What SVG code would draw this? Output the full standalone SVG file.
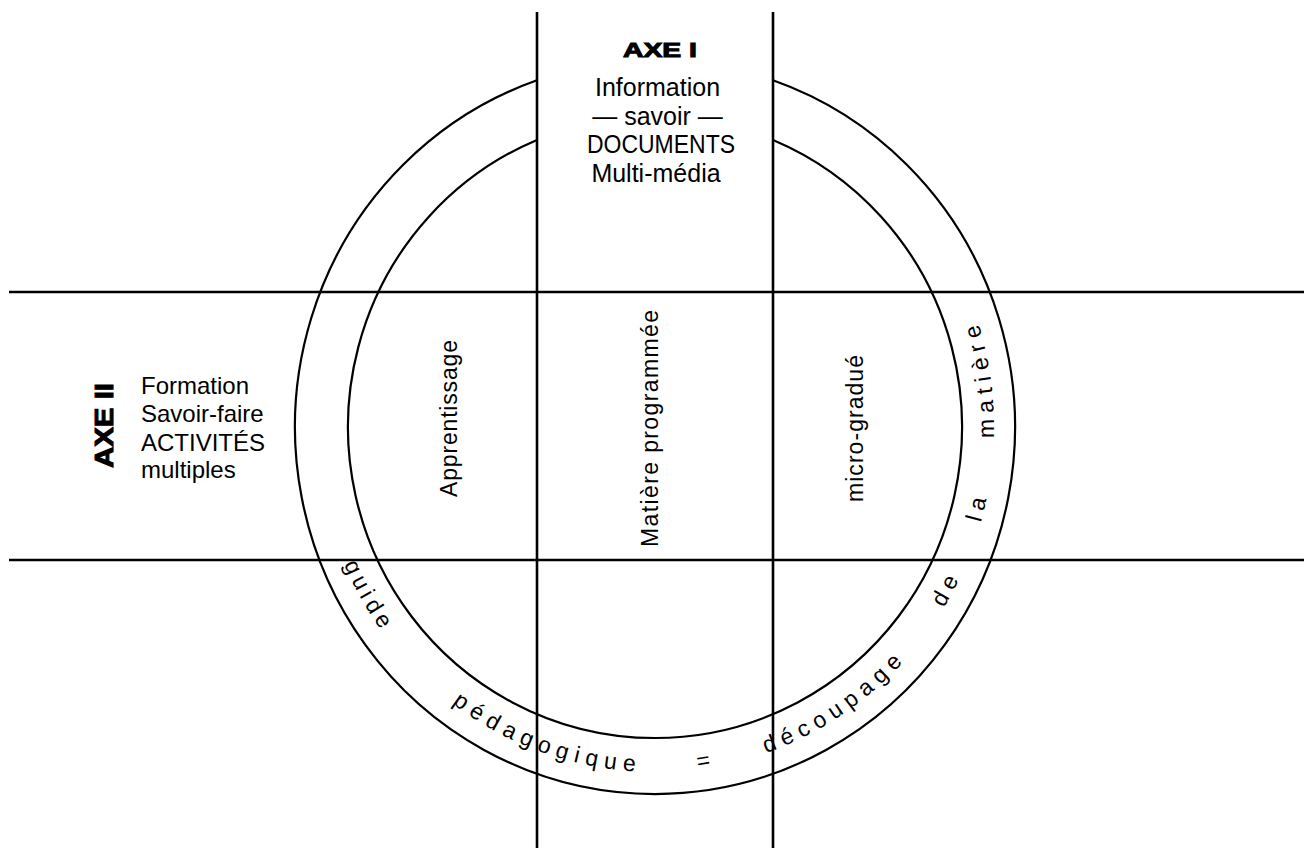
<svg xmlns="http://www.w3.org/2000/svg" xmlns:xlink="http://www.w3.org/1999/xlink" width="1304" height="857" viewBox="0 0 1304 857">
  <style>
    .ln { stroke: #000; stroke-width: 2.6; fill: none; stroke-linecap: butt; }
    .arc { stroke: #000; stroke-width: 2.2; fill: none; }
    .t { font-family: "Liberation Sans", Arial, Helvetica, sans-serif; font-size: 24px; fill: #000; }
    .top { font-size: 25px; text-anchor: middle; }
    .b { font-weight: bold; stroke: #000; stroke-width: 1; }
    .ring { font-family: "Liberation Sans", Arial, Helvetica, sans-serif; font-size: 23px; fill: #000; letter-spacing: 6.5px; }
  </style>
  <defs>
    <path id="ringpath" d="M316,427 A339,345 0 0,0 994,427 A339,345 0 0,0 316,427"/>
  </defs>
  <rect width="1304" height="857" fill="#fff"/>

  <g id="connectors">
    <line class="ln" x1="537" y1="12" x2="537" y2="848"/>
    <line class="ln" x1="773" y1="12" x2="773" y2="848"/>
    <line class="ln" x1="9" y1="292" x2="1304" y2="292"/>
    <line class="ln" x1="9" y1="560" x2="1304" y2="560"/>
    <path class="arc" d="M537,80.3 A360,367 0 1,0 773,80.3"/>
    <path class="arc" d="M537,139.9 A307,311 0 1,0 773,139.9"/>
  </g>

  <g id="axe1">
    <text class="t b" x="623" y="57" textLength="74" lengthAdjust="spacingAndGlyphs" style="font-size:20px">AXE I</text>
    <text class="t top" x="657.5" y="96">Information</text>
    <text class="t top" x="657.5" y="124.5">— savoir —</text>
    <text class="t" x="587" y="153" textLength="148" lengthAdjust="spacingAndGlyphs" style="font-size:25px">DOCUMENTS</text>
    <text class="t top" x="656" y="181.5">Multi-média</text>
  </g>

  <g id="axe2">
    <text class="t b" transform="translate(113,425.5) rotate(-90)" x="-42.5" y="0" textLength="85" lengthAdjust="spacingAndGlyphs" style="font-size:25px">AXE II</text>
    <text class="t" x="141" y="394">Formation</text>
    <text class="t" x="141" y="422">Savoir-faire</text>
    <text class="t" x="141" y="451">ACTIVITÉS</text>
    <text class="t" x="141" y="478">multiples</text>
  </g>

  <g id="apprentissage">
    <text class="t" transform="translate(457,418.5) rotate(-90)" x="-78.5" y="0" textLength="157" lengthAdjust="spacing" style="font-size:23px">Apprentissage</text>
  </g>
  <g id="matiere-programmee">
    <text class="t" transform="translate(658,428.5) rotate(-90)" x="-118.5" y="0" textLength="237" lengthAdjust="spacing" style="font-size:23px">Matière programmée</text>
  </g>
  <g id="micro-gradue">
    <text class="t" transform="translate(863,428.5) rotate(-90)" x="-73.5" y="0" textLength="147" lengthAdjust="spacing" style="font-size:23px">micro-gradué</text>
  </g>

  <g id="ring-label">
    <text class="ring" style="letter-spacing:4.75px"><textPath xlink:href="#ringpath" href="#ringpath" startOffset="141">guide</textPath></text>
    <text class="ring"><textPath xlink:href="#ringpath" href="#ringpath" startOffset="319">pédagogique</textPath></text>
    <text class="ring"><textPath xlink:href="#ringpath" href="#ringpath" startOffset="580">=</textPath></text>
    <text class="ring"><textPath xlink:href="#ringpath" href="#ringpath" startOffset="650">découpage</textPath></text>
    <text class="ring"><textPath xlink:href="#ringpath" href="#ringpath" startOffset="884">de</textPath></text>
    <text class="ring"><textPath xlink:href="#ringpath" href="#ringpath" startOffset="977">la</textPath></text>
    <text class="ring"><textPath xlink:href="#ringpath" href="#ringpath" startOffset="1063">matière</textPath></text>
  </g>
</svg>
